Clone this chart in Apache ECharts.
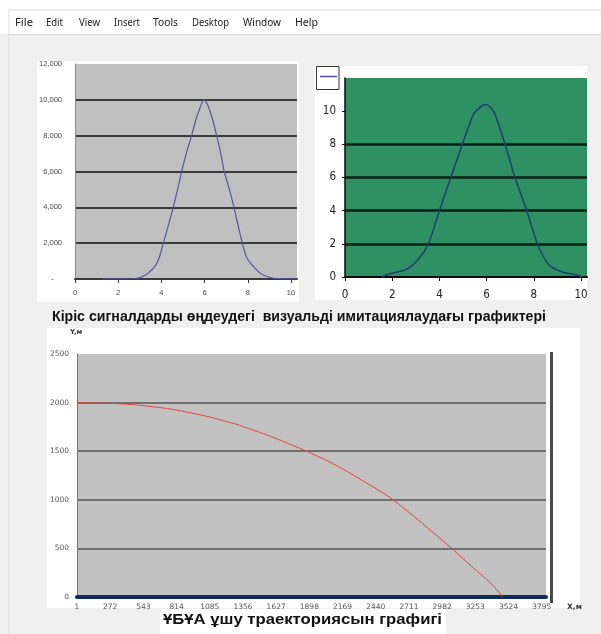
<!DOCTYPE html>
<html><head><meta charset="utf-8">
<script src="https://cdn.jsdelivr.net/npm/echarts@6/dist/echarts.min.js"></script>
<style>html,body{margin:0;padding:0;background:#f0f0f0}#c{width:601px;height:634px}</style>
</head><body><div id="c"></div>
<script>
// ---- data ----
const menuItems = ['File','Edit','View','Insert','Tools','Desktop','Window','Help'];
const captionTop = 'Кіріс сигналдарды өңдеудегі  визуальді имитациялаудағы графиктері';
const captionBottom = 'ҰБҰА ұшу траекториясын графигі';
const yTitleBottom = 'Y,м';
const xTitleBottom = 'X,м';

const leftX = [1.3, 2.7, 3.0, 3.3, 3.7, 3.9, 4.09, 4.3, 4.55, 4.75, 4.94, 5.15, 5.4, 5.6, 5.8, 5.97, 6.15, 6.35, 6.56, 6.75, 6.91, 7.15, 7.36, 7.55, 7.75, 7.95, 8.26, 8.6, 9.0, 9.4, 10.3];
const leftY = [0, 0, 80, 250, 700, 1200, 2000, 2900, 4000, 5000, 6000, 7000, 8000, 8900, 9600, 10000, 9700, 9000, 8000, 7000, 6000, 5000, 4000, 3000, 2000, 1200, 700, 300, 100, 20, 0];
const leftXTicks = [0, 2, 4, 6, 8, 10];

const rightX = [1.55, 1.9, 2.6, 3.1, 3.53, 4.0, 4.48, 4.97, 5.44, 5.7, 5.93, 6.15, 6.33, 6.78, 7.2, 7.7, 8.15, 8.62, 9.18, 9.82, 10.03];
const rightY = [0, 0.2, 0.46, 1.06, 2, 4, 6, 8, 9.8, 10.2, 10.4, 10.25, 9.9, 8, 6, 4, 2, 0.76, 0.32, 0.12, 0];
const rightXTicks = [0, 2, 4, 6, 8, 10];
const rightYTicks = [0, 2, 4, 6, 8, 10];

const trajX = [1, 270, 488, 760, 1032, 1305, 1577, 1876, 2066, 2230, 2556, 2801, 3060, 3236, 3372, 3480];
const trajY = [2000, 1993, 1976, 1935, 1868, 1776, 1655, 1500, 1388, 1275, 1025, 778, 500, 300, 150, 0];
const trajXTicks = [1, 272, 543, 814, 1085, 1356, 1627, 1898, 2169, 2440, 2711, 2982, 3253, 3524, 3795];

// ---- helpers ----
const mctx = document.createElement('canvas').getContext('2d');
function fitText(text, size, family, weight, x0, x1, yc, fill) {
  mctx.font = weight + ' ' + size + 'px ' + family;
  const w = mctx.measureText(text).width;
  return {type:'text', x:x0, y:yc, scaleX:(x1 - x0) / w, z:10,
    style:{text:text, fontSize:size, fontFamily:family, fontWeight:weight, fill:fill || '#111', verticalAlign:'middle', align:'left'}};
}
const zip = (a, b) => a.map((v, i) => [v, b[i]]);

const menuLayout = [[15,33],[46,63],[79,100],[114,140],[153,178],[192,229],[243,281],[295,318]];
const graphics = [
  {type:'rect', shape:{x:0,y:0,width:601,height:34}, style:{fill:'#ffffff'}, z:-5},
  {type:'line', shape:{x1:9,y1:10,x2:601,y2:10}, style:{stroke:'#d6d6de',lineWidth:1}, z:-4},
  {type:'line', shape:{x1:9,y1:10,x2:9,y2:634}, style:{stroke:'#dcdce2',lineWidth:1}, z:-4},
  {type:'line', shape:{x1:9,y1:34.5,x2:601,y2:34.5}, style:{stroke:'#d8d8d8',lineWidth:1}, z:-4},
  {type:'rect', shape:{x:37,y:61,width:262,height:241}, style:{fill:'#ffffff'}, z:-5},
  {type:'rect', shape:{x:315,y:66,width:272,height:234}, style:{fill:'#ffffff'}, z:-5},
  {type:'rect', shape:{x:47,y:328,width:533,height:280}, style:{fill:'#ffffff'}, z:-5},
  {type:'rect', shape:{x:160,y:609,width:286,height:25}, style:{fill:'#ffffff'}, z:-5},
  {type:'rect', shape:{x:316.5,y:66.5,width:22.5,height:23}, style:{fill:'#ffffff',stroke:'#333',lineWidth:1}, z:10},
  {type:'line', shape:{x1:320,y1:76.5,x2:337,y2:76.5}, style:{stroke:'#4a4aa0',lineWidth:1.5}, z:11},
  {type:'line', shape:{x1:551.5,y1:352,x2:551.5,y2:603}, style:{stroke:'#4a4a4a',lineWidth:3}, z:10},
  fitText(captionTop, 14.5, 'Liberation Sans', 'bold', 52, 546, 317, '#111'),
  fitText(captionBottom, 15, 'Liberation Sans', 'bold', 163, 442, 620, '#111'),
  {type:'text', x:70, y:332, z:10, style:{text:yTitleBottom, fontSize:7, fontFamily:'DejaVu Sans', fontWeight:'bold', fill:'#333', verticalAlign:'middle'}},
  {type:'text', x:567, y:607, z:10, style:{text:xTitleBottom, fontSize:7.5, fontFamily:'DejaVu Sans', fontWeight:'bold', fill:'#333', verticalAlign:'middle'}}
];
menuItems.forEach((m, i) => graphics.push(fitText(m, 11, 'Noto Sans', 'normal', menuLayout[i][0], menuLayout[i][1], 23, '#1a1a1a')));

const chart = echarts.init(document.getElementById('c'), null, {renderer:'canvas'});
chart.setOption({
  animation:false,
  backgroundColor:'#f0f0f0',
  graphic: graphics,
  grid:[
    {left:75, top:64, width:222, height:215, show:true, backgroundColor:'#c0c0c0', borderWidth:0},
    {left:345, top:78, width:242, height:199, show:true, backgroundColor:'#2f9163', borderWidth:0},
    {left:77, top:354, width:469, height:243, show:true, backgroundColor:'#c2c2c2', borderWidth:0}
  ],
  xAxis:[
    {type:'value', gridIndex:0, min:0, max:10.28,
     axisLine:{show:true, onZero:false, lineStyle:{color:'#3a3a3a', width:2}},
     axisTick:{show:true, length:4, customValues:leftXTicks, lineStyle:{color:'#3a3a3a'}},
     axisLabel:{customValues:leftXTicks, fontSize:7.5, color:'#444', fontFamily:'Liberation Sans', margin:10},
     splitLine:{show:false}},
    {type:'value', gridIndex:1, min:0, max:10.25,
     axisLine:{show:true, onZero:false, lineStyle:{color:'#0a0a0a', width:2}},
     axisTick:{show:true, length:4, customValues:rightXTicks, lineStyle:{color:'#0a0a0a'}},
     axisLabel:{customValues:rightXTicks, fontSize:11.5, color:'#222', fontFamily:'Liberation Sans Narrow, DejaVu Sans Condensed, Liberation Sans', margin:12},
     splitLine:{show:false}},
    {type:'value', gridIndex:2, min:1, max:3830,
     axisLine:{show:true, onZero:false, lineStyle:{color:'#0f2c55', width:4}},
     axisTick:{show:false},
     axisLabel:{customValues:trajXTicks, fontSize:7.5, color:'#555', fontFamily:'DejaVu Sans', margin:6, formatter:v => String(v)},
     splitLine:{show:false}}
  ],
  yAxis:[
    {type:'value', gridIndex:0, min:0, max:12000, interval:2000,
     axisLine:{show:true, lineStyle:{color:'#8a8a8a', width:1}},
     axisTick:{show:false},
     axisLabel:{fontSize:7.5, color:'#444', fontFamily:'Liberation Sans', margin:13,
       formatter:v => v === 0 ? '-    ' : v.toLocaleString('en-US')},
     splitLine:{show:true, showMinLine:false, showMaxLine:false, lineStyle:{color:'#3a3a3a', width:2}}},
    {type:'value', gridIndex:1, min:0, max:12, interval:2,
     axisLine:{show:true, lineStyle:{color:'#0a0a0a', width:1.5}},
     axisTick:{show:true, length:3, customValues:rightYTicks, lineStyle:{color:'#0a0a0a'}},
     axisLabel:{customValues:rightYTicks, fontSize:11.5, color:'#222', fontFamily:'Liberation Sans Narrow, DejaVu Sans Condensed, Liberation Sans', margin:9},
     splitLine:{show:true, showMinLine:false, showMaxLine:false, lineStyle:{color:'#0c1f14', width:2.5}}},
    {type:'value', gridIndex:2, min:0, max:2500, interval:500,
     axisLine:{show:true, lineStyle:{color:'#5a7aa8', width:1}},
     axisTick:{show:false},
     axisLabel:{fontSize:7.5, color:'#555', fontFamily:'DejaVu Sans', margin:8, formatter:v => String(v)},
     splitLine:{show:true, showMinLine:false, showMaxLine:false, lineStyle:{color:'#555555', width:1.5}}}
  ],
  series:[
    {type:'line', xAxisIndex:0, yAxisIndex:0, data:zip(leftX, leftY), showSymbol:false, smooth:0.3,
     lineStyle:{color:'#5555aa', width:1.2}, z:5},
    {type:'line', xAxisIndex:1, yAxisIndex:1, data:zip(rightX, rightY), showSymbol:false, smooth:0.3,
     lineStyle:{color:'#1e3d6e', width:1.5}, z:5},
    {type:'line', xAxisIndex:2, yAxisIndex:2, data:zip(trajX, trajY), showSymbol:false, smooth:0.15,
     lineStyle:{color:'#e5443c', width:1}, z:5}
  ]
});
</script></body></html>
